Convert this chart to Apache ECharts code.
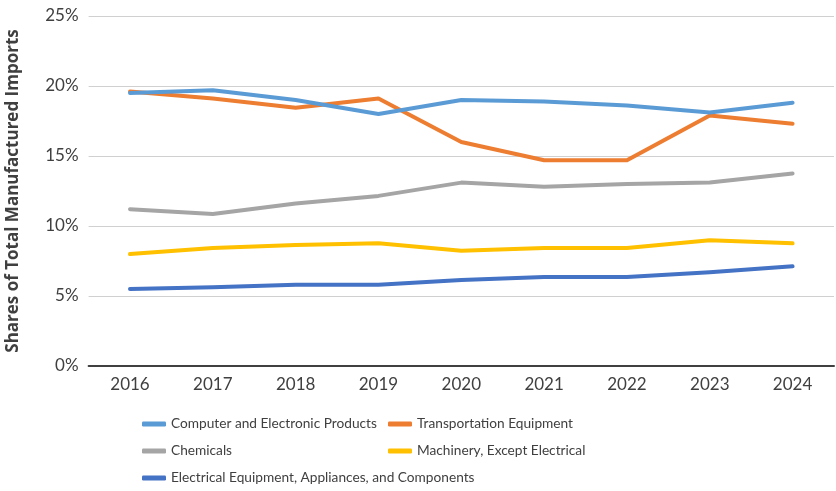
<!DOCTYPE html>
<html><head><meta charset="utf-8">
<script src="https://cdn.jsdelivr.net/npm/echarts@6/dist/echarts.min.js"></script>
<style>html,body{margin:0;padding:0;background:#fff}#c{width:836px;height:491px}</style>
</head><body><div id="c"></div>
<script>
const years = ['2016','2017','2018','2019','2020','2021','2022','2023','2024'];
const computer = [19.5, 19.7, 19.0, 18.0, 19.0, 18.9, 18.6, 18.1, 18.8];
const transport = [19.6, 19.1, 18.45, 19.1, 16.0, 14.7, 14.7, 17.9, 17.3];
const chemicals = [11.2, 10.85, 11.6, 12.15, 13.1, 12.8, 13.0, 13.1, 13.75];
const machinery = [8.0, 8.43, 8.64, 8.76, 8.24, 8.43, 8.43, 8.98, 8.76];
const electrical = [5.5, 5.62, 5.81, 5.81, 6.14, 6.36, 6.36, 6.69, 7.12];
const yTicks = [0, 5, 10, 15, 20, 25];

const names = ['Computer and Electronic Products','Transportation Equipment','Chemicals','Machinery, Except Electrical','Electrical Equipment, Appliances, and Components'];
const colors = ['#5B9BD5','#ED7D31','#A5A5A5','#FFC000','#4472C4'];
const dataSets = [computer, transport, chemicals, machinery, electrical];
const font = 'Lato, "Open Sans", sans-serif';

const chart = echarts.init(document.getElementById('c'));
const legendCommon = {
  orient: 'vertical', top: 417, height: 90, padding: 0, itemWidth: 24, itemHeight: 5, itemGap: 13,
  icon: 'roundRect',
  textStyle: { fontFamily: font, fontSize: 13.7, color: '#404040', padding: [0,0,0,0] }
};
chart.setOption({
  animation: false,
  color: colors,
  grid: { left: 88.6, right: 2, top: 16, bottom: 125, outerBoundsMode: 'none', containLabel: false },
  legend: [
    Object.assign({}, legendCommon, { left: 142, data: [names[0], names[2], names[4]] }),
    Object.assign({}, legendCommon, { left: 388, data: [names[1], names[3]] })
  ],
  xAxis: {
    type: 'category', data: years, boundaryGap: true,
    axisLine: { lineStyle: { color: '#404040', width: 2 } },
    axisTick: { show: false },
    axisLabel: { fontFamily: font, fontSize: 17, color: '#404040', margin: 10 }
  },
  yAxis: {
    type: 'value', min: yTicks[0], max: yTicks[yTicks.length-1], interval: 5,
    name: 'Shares of Total Manufactured Imports', nameLocation: 'middle', nameGap: 67,
    nameTextStyle: { fontFamily: '"Open Sans", Lato, sans-serif', fontSize: 17, fontWeight: 'bold', color: '#404040' },
    axisLine: { show: false }, axisTick: { show: false },
    axisLabel: { formatter: '{value}%', fontFamily: font, fontSize: 17, color: '#404040', margin: 10 },
    splitLine: { lineStyle: { color: '#D0D0D0', width: 1.2 } }
  },
  series: dataSets.map((d, i) => ({
    name: names[i], type: 'line', data: d, symbol: 'none',
    lineStyle: { width: 4, color: colors[i], cap: 'round', join: 'round' },
    itemStyle: { color: colors[i] },
    z: 10 - i
  }))
});
</script></body></html>
